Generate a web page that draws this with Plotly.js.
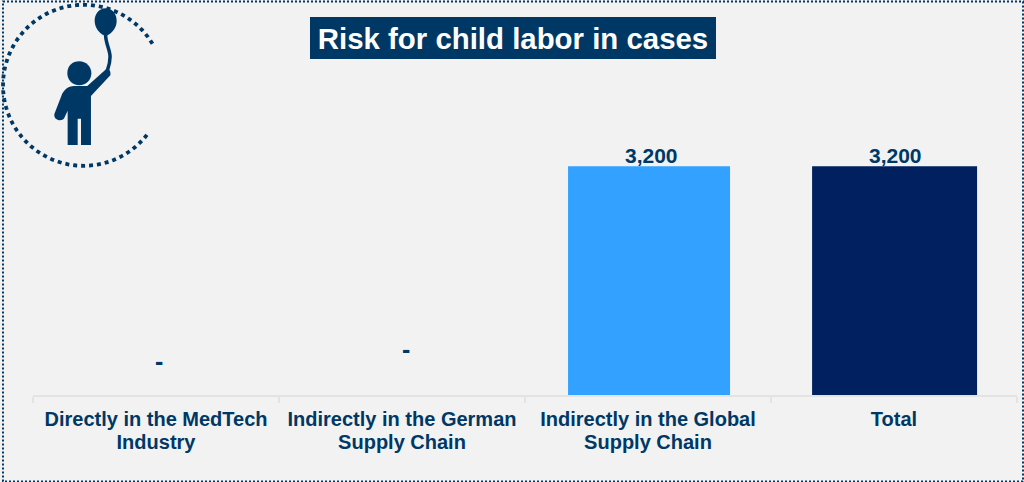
<!DOCTYPE html>
<html><head><meta charset="utf-8">
<script src="https://cdn.plot.ly/plotly-3.0.1.min.js"></script>
<style>html,body{margin:0;padding:0;background:#f2f2f2;overflow:hidden}#c{width:1024px;height:482px}</style>
</head><body><div id="c"></div>
<script>
const categories = ["Directly in the MedTech<br>Industry","Indirectly in the German<br>Supply Chain","Indirectly in the Global<br>Supply Chain","Total"];
const values = [0,0,3200,3200];
const barLabels = ["-","-","3,200","3,200"];
const barColors = ["#33A1FF","#33A1FF","#33A1FF","#00205F"];
const titleText = "Risk for child labor in cases";
const dark = "#003865";
const W=1024,H=482,ml=33,mr=7,mt=109,mb=87;
const X=x=>((x-ml)/(W-ml-mr)).toFixed(4), Y=y=>((H-mb-y)/(H-mt-mb)).toFixed(4);
function pix(cmds){ // icon outline traced in 3x crop pixels
  return cmds.map(c=>typeof c==='string'?c:X(c[0]/3)+','+Y(c[1]/3)).join(' ');
}
// dotted arc round the icon
let arc=[];
const cx=83.5,cy=85.3,r=80.5,a0=-31,a1=-322;
for(let d=a0;d>=a1;d-=3){const a=d*Math.PI/180;arc.push((arc.length?'L':'M')+X(cx+r*Math.cos(a))+','+Y(cy+r*Math.sin(a)));}
const chord=2*r*Math.sin(1.5*Math.PI/180)*Math.round((a0-a1)/3);
const dotLen=4,dotN=51,dotGap=(chord-dotLen)/dotN-dotLen;
const body=pix(['M',[318,208],'C',[326,204],[334,214],[331,226],'L',[273,288],'L',[273,435],'L',[243,435],'L',[243,356],'L',[233,356],'L',[233,435],'L',[203,435],'L',[203,332],'L',[193,354],'C',[186,366],[160,362],[163,342],'L',[184,288],'C',[190,270],[205,258],[222,258],'L',[262,258],'Z']);
const balloon=pix(['M',[317,25],'C',[340,25],[351,45],[350,65],'C',[349,85],[332,105],[317,107],'C',[302,105],[285,85],[284,65],'C',[283,45],[295,25],[317,25],'Z']);
const string=pix(['M',[317,105],'C',[317,130],[330,150],[330,170],'C',[330,190],[326,200],[322,212]]);
const head=pix(['M',[202,220],'C',[202,197],[217,184],[238,184],'C',[258,184],[274,199],[274,220],'C',[274,240],[258,256],[238,256],'C',[217,256],[202,240],[202,220],'Z']);
const pxRect=(x0,y0,x1,y1)=>({x0:X(x0),x1:X(x1),y0:Y(y0),y1:Y(y1)});
const shapes=[
 Object.assign({type:'rect',xref:'paper',yref:'paper',layer:'below',fillcolor:dark,line:{width:0}},pxRect(310,17,716,59)),
 Object.assign({type:'rect',xref:'paper',yref:'paper',layer:'above',fillcolor:'rgba(0,0,0,0)',line:{color:dark,width:2,dash:'2px,2px'}},pxRect(3,1.5,1023,481.5)),
 {type:'path',xref:'paper',yref:'paper',path:arc.join(' '),line:{color:dark,width:3.8,dash:dotLen+'px,'+dotGap.toFixed(3)+'px'}},
 {type:'path',xref:'paper',yref:'paper',path:body,fillcolor:dark,line:{width:0}},
 {type:'path',xref:'paper',yref:'paper',path:balloon,fillcolor:dark,line:{width:0}},
 {type:'path',xref:'paper',yref:'paper',path:string,line:{color:dark,width:3.5}},
 {type:'path',xref:'paper',yref:'paper',path:head,fillcolor:dark,line:{width:0}}
];
const family='"Liberation Sans",Arial,sans-serif';
const trace={type:'bar',x:categories,y:values,width:[0.66,0.66,0.6585,0.6707],offset:[-0.33,-0.33,-0.325,-0.333],cliponaxis:false,
 marker:{color:barColors,line:{width:0}},hoverinfo:'skip'};
const labelShift=[[3,34,25],[4,46,25],[3,11,21],[1,11,21]];
const layout={
 width:W,height:H,paper_bgcolor:'#f2f2f2',plot_bgcolor:'#f2f2f2',showlegend:false,
 margin:{l:ml,r:mr,t:mt,b:mb,pad:0},
 font:{family,color:dark},
 title:{text:'<b>'+titleText+'</b>',font:{size:29.4,color:'#ffffff'},xref:'paper',yref:'container',x:+X(513),xanchor:'center',y:1-39/H,yanchor:'middle',pad:{t:0,b:0,l:0,r:0}},
 xaxis:{type:'category',tickson:'boundaries',ticks:'outside',ticklen:6,tickwidth:2,tickcolor:'#e3e3e3',showline:true,linecolor:'#e3e3e3',linewidth:2,showgrid:false,zeroline:false,
   tickfont:{size:20,color:dark,family,weight:'bold'},tickangle:0,ticklabelstandoff:5},
 yaxis:{range:[0,4000],visible:false,fixedrange:true},
 annotations:categories.map((c,i)=>({x:c,y:values[i],text:'<b>'+barLabels[i]+'</b>',showarrow:false,xshift:labelShift[i][0],yshift:labelShift[i][1],yanchor:'middle',font:{size:labelShift[i][2],color:dark,family}})),
 shapes
};
Plotly.newPlot('c',[trace],layout,{displayModeBar:false,staticPlot:true}).then(()=>{
  // tighter line spacing of the two-line category labels, as in the reference
  document.querySelectorAll('.xtick text').forEach(t=>{
    const lines=t.querySelectorAll('tspan.line');
    if(lines.length>1){const y=parseFloat(lines[1].getAttribute('y'));lines[1].setAttribute('y',y-3);}
  });
});
</script></body></html>
